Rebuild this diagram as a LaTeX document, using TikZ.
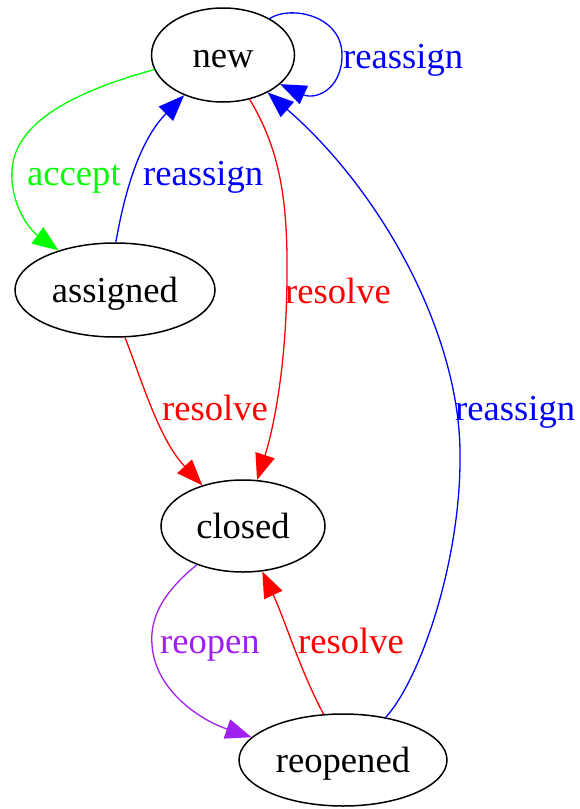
\documentclass[tikz,border=0pt]{standalone}
\usepackage{fontspec}
\setmainfont{Liberation Serif}
\usetikzlibrary{shapes.geometric,arrows.meta}
\definecolor{gvpurple}{RGB}{160,32,240}
\begin{document}
\begin{tikzpicture}[x=1pt,y=-1pt,
  state/.style={draw=black,line width=1.5pt,ellipse,inner sep=0pt,text height=25pt,text depth=0pt,font=\fontsize{36.6}{40}\selectfont},
  lbl/.style={anchor=base west,inner sep=0pt,font=\fontsize{36.6}{40}\selectfont},
  edge/.style={line width=1.3pt,-{Triangle[length=26pt,width=20pt]}}]
\useasboundingbox (0,0) rectangle (579,809);
\node[state,minimum width=143pt,minimum height=94pt] (new) at (223,55) {new};
\node[state,minimum width=200pt,minimum height=94pt] (assigned) at (115,290) {assigned};
\node[state,minimum width=164pt,minimum height=92pt] (closed) at (243,526) {closed};
\node[state,minimum width=208pt,minimum height=92pt] (reopened) at (343,760) {reopened};
% accept
\draw[edge,green] (new.192) .. controls (80,90) and (15,120) .. (12,170) .. controls (10,205) and (30,230) .. (assigned.145);
\node[lbl,text=green] (l1) at (27,185) {accept};
% assigned -> new
\draw[edge,blue] (assigned.89) .. controls (125,190) and (140,140) .. (new.226);
\node[lbl,text=blue] (l2) at (143,185) {reassign};
% self loop
\draw[edge,blue] (new.38) .. controls (290,5) and (342,15) .. (342,55) .. controls (342,90) and (315,100) .. (new.-27);
\node[lbl,text=blue] (l3) at (343,68) {reassign};
% new -> closed
\draw[edge,red] (new.-59) .. controls (280,150) and (288,200) .. (287,280) .. controls (286,380) and (270,440) .. (closed.73);
\node[lbl,text=red] (l4) at (285,303) {resolve};
% assigned -> closed
\draw[edge,red] (assigned.-78) .. controls (145,390) and (160,440) .. (closed.135);
\node[lbl,text=red] (l5) at (162,420) {resolve};
% reopened -> new
\draw[edge,blue] (reopened.45) .. controls (420,680) and (462,560) .. (460,450) .. controls (458,330) and (380,190) .. (new.-40);
\node[lbl,text=blue] (l6) at (455,420) {reassign};
% closed -> reopened
\draw[edge,gvpurple] (closed.220) .. controls (160,595) and (150,620) .. (152,645) .. controls (155,690) and (200,720) .. (reopened.166);
\node[lbl,text=gvpurple] (l7) at (160,653) {reopen};
% reopened -> closed
\draw[edge,red] (reopened.113) .. controls (300,670) and (285,620) .. (closed.-67);
\node[lbl,text=red] (l8) at (298,653) {resolve};
\end{tikzpicture}
\end{document}
